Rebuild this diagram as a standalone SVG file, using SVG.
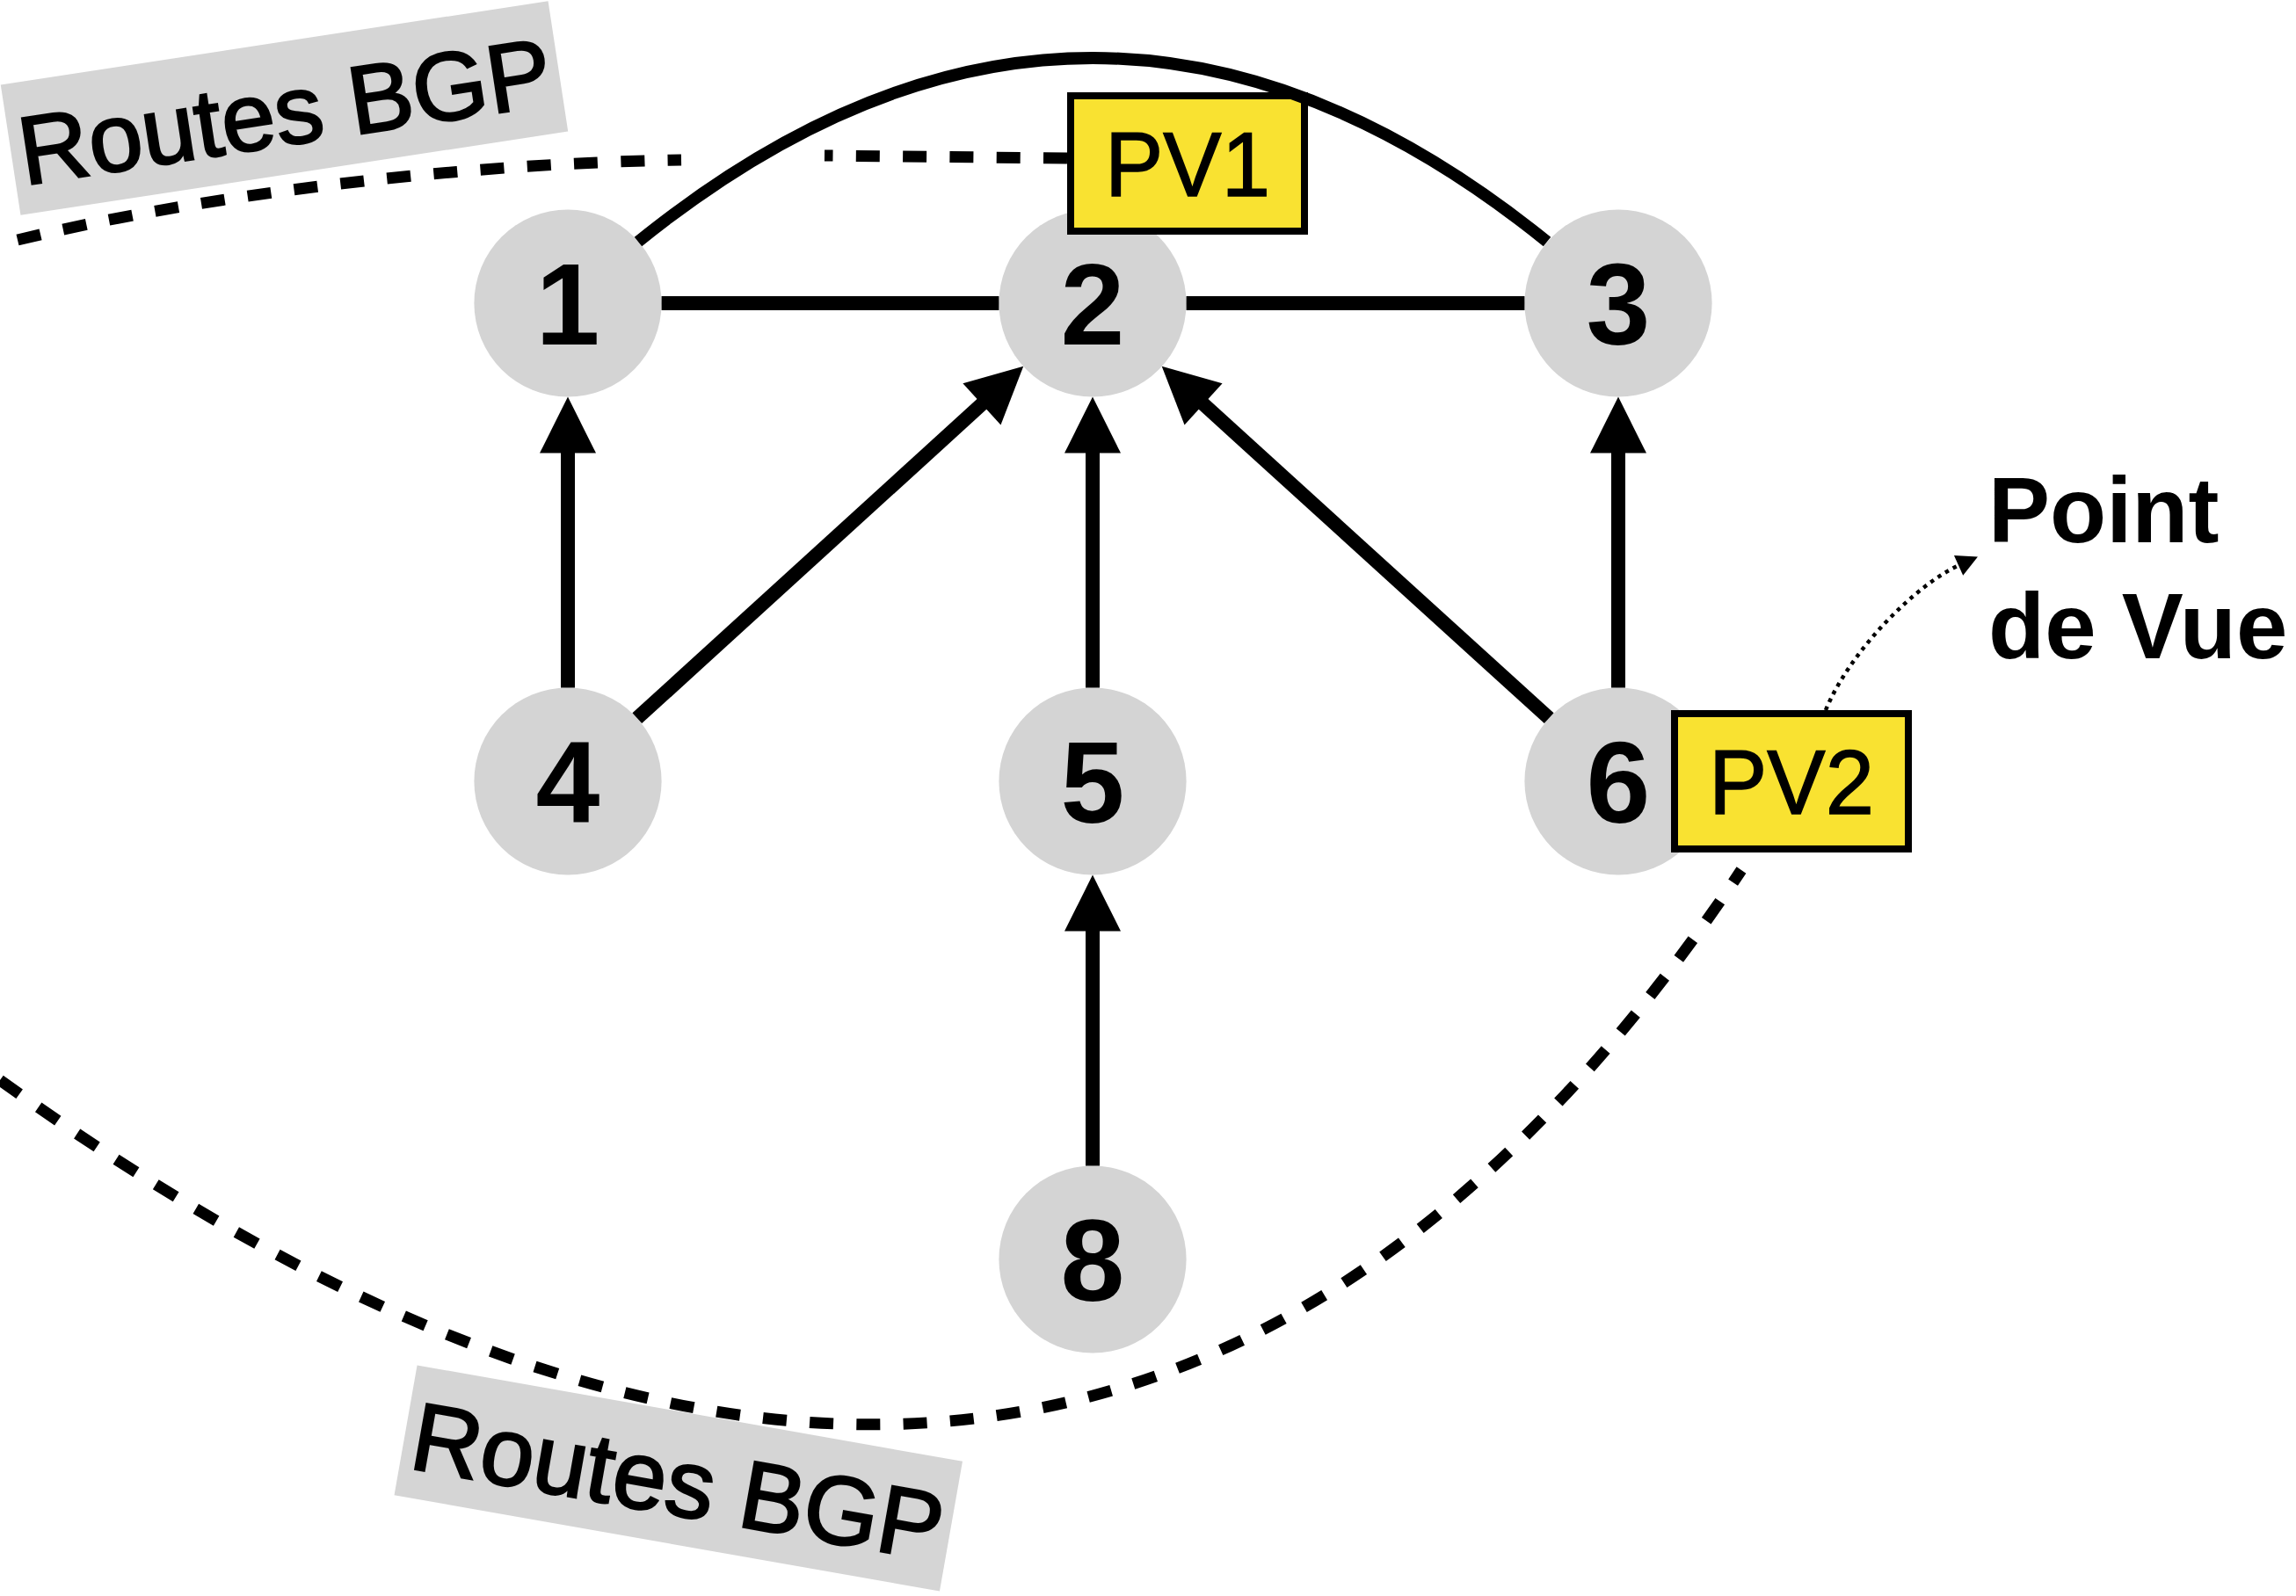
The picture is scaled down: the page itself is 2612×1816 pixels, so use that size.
<svg xmlns="http://www.w3.org/2000/svg" width="2612" height="1816" viewBox="0 0 2612 1816">
  <style>
    .node circle { fill: #D4D4D4; }
    .node text { font-family: "Liberation Sans", Arial, Helvetica, sans-serif; font-weight: bold; font-size: 131px; text-anchor: middle; fill: #000; }
    .pv rect { fill: #F9E231; stroke: #000; stroke-width: 8; }
    .pv text { font-family: "Liberation Sans", Arial, Helvetica, sans-serif; font-size: 104px; text-anchor: middle; fill: #000; stroke: #000; stroke-width: 1.5; }
    .tag rect { fill: #D5D5D5; }
    .tag text { font-family: "Liberation Sans", Arial, Helvetica, sans-serif; font-size: 110px; text-anchor: middle; fill: #000; stroke: #000; stroke-width: 2.5; }
    .note text { font-family: "Liberation Sans", Arial, Helvetica, sans-serif; font-weight: bold; font-size: 105px; fill: #000; }
    .edge { fill: none; stroke: #000; stroke-width: 16; }
    .arrow { marker-end: url(#head); }
    .arc { fill: none; stroke: #000; stroke-width: 13.5; }
    .bgp { fill: none; stroke: #000; stroke-width: 13; stroke-dasharray: 27 26.3; }
    .pointer { fill: none; stroke: #000; stroke-width: 4.5; stroke-dasharray: 4.5 5.5; marker-end: url(#smallhead); }
  </style>
  <defs>
    <marker id="head" markerUnits="userSpaceOnUse" markerWidth="64" markerHeight="64" refX="4" refY="0" orient="auto" overflow="visible">
      <path d="M0,-32 L64,0 L0,32 Z" fill="#000"/>
    </marker>
    <marker id="smallhead" markerUnits="userSpaceOnUse" markerWidth="24" markerHeight="25" refX="1" refY="0" orient="auto" overflow="visible">
      <path d="M0,-12.5 L24,0 L0,12.5 Z" fill="#000"/>
    </marker>
  </defs>

  <rect width="2612" height="1816" fill="#fff"/>

  <!-- rotated grey labels -->
  <g id="routes-bgp-top" class="tag" transform="translate(323.5,123) rotate(-8.7)">
    <rect x="-315" y="-75" width="630" height="150"/>
    <text x="0" y="42">Routes BGP</text>
  </g>
  <g id="routes-bgp-bottom" class="tag" transform="translate(771.75,1682) rotate(10)">
    <rect x="-315" y="-75" width="630" height="150"/>
    <text x="0" y="42">Routes BGP</text>
  </g>

  <!-- routers -->
  <g id="node-1" class="node"><circle cx="646" cy="345" r="106.6"/><text x="646" y="392">1</text></g>
  <g id="node-2" class="node"><circle cx="1243" cy="345" r="106.6"/><text x="1243" y="392">2</text></g>
  <g id="node-3" class="node"><circle cx="1841" cy="345" r="106.6"/><text x="1841" y="392">3</text></g>
  <g id="node-4" class="node"><circle cx="646" cy="889" r="106.6"/><text x="646" y="936">4</text></g>
  <g id="node-5" class="node"><circle cx="1243" cy="889" r="106.6"/><text x="1243" y="936">5</text></g>
  <g id="node-6" class="node"><circle cx="1841" cy="889" r="106.6"/><text x="1841" y="936">6</text></g>
  <g id="node-8" class="node"><circle cx="1243" cy="1433" r="106.6"/><text x="1243" y="1480">8</text></g>

  <!-- vantage points -->
  <g id="pv1" class="pv">
    <rect x="1218" y="109" width="266" height="154"/>
    <text x="1351" y="223" textLength="188" lengthAdjust="spacingAndGlyphs">PV1</text>
  </g>
  <g id="pv2" class="pv">
    <rect x="1905" y="812" width="266" height="154"/>
    <text x="2038" y="926" textLength="188" lengthAdjust="spacingAndGlyphs">PV2</text>
  </g>

  <g id="point-de-vue" class="note">
    <text x="2262" y="617">Point</text>
    <text x="2262" y="749">de Vue</text>
  </g>

  <!-- links -->
  <g id="connectors">
    <path class="edge" d="M752.6,345 L1136.4,345"/>
    <path class="edge" d="M1349.6,345 L1734.4,345"/>
    <path class="edge arrow" d="M646,782.4 L646,511.6"/>
    <path class="edge arrow" d="M1243,782.4 L1243,511.6"/>
    <path class="edge arrow" d="M1841,782.4 L1841,511.6"/>
    <path class="edge arrow" d="M1243,1326.4 L1243,1055.6"/>
    <path class="edge arrow" d="M724.8,817.2 L1119.9,457.2"/>
    <path class="edge arrow" d="M1762.2,817.2 L1366.1,457.2"/>
    <path class="arc" d="M726,275 Q1243,-143 1760,275"/>
    <path class="bgp" d="M20,273 C230,222 520,186 775,182"/>
    <path class="bgp" d="M1214,180 L938,177"/>
    <path class="bgp" d="M0,1229 C731,1755 1426,1822 1981,990"/>
    <path class="pointer" d="M2077,808 C2105,740 2180,665 2229,643"/>
  </g>
</svg>
